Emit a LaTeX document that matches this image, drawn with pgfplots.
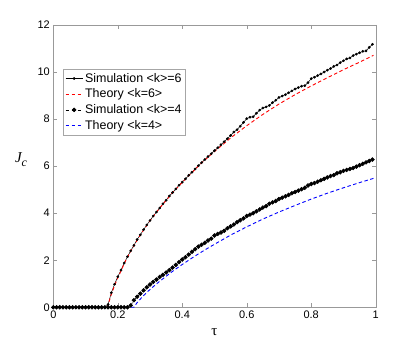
\documentclass[border=0pt]{standalone}
\usepackage{fontspec}
\setmainfont{Liberation Sans}
\newfontfamily\seriffont{Liberation Serif}
\usepackage{pgfplots}
\pgfplotsset{compat=1.18}

\pgfplotstableread{
t J
0.00 0
0.01 0
0.02 0
0.03 0
0.04 0
0.05 0
0.06 0
0.07 0
0.08 0
0.09 0
0.10 0
0.11 0
0.12 0
0.13 0
0.14 0
0.15 0
0.16 0
0.17 0.12
0.18 0.62
0.19 0.98
0.20 1.30
0.21 1.58
0.22 1.88
0.23 2.15
0.24 2.40
0.25 2.63
0.26 2.88
0.27 3.08
0.28 3.30
0.29 3.50
0.30 3.69
0.31 3.88
0.32 4.05
0.33 4.22
0.34 4.40
0.35 4.55
0.36 4.73
0.37 4.88
0.38 5.03
0.39 5.19
0.40 5.32
0.41 5.46
0.42 5.61
0.43 5.74
0.44 5.88
0.45 6.02
0.46 6.15
0.47 6.28
0.48 6.41
0.49 6.53
0.50 6.66
0.51 6.78
0.52 6.91
0.53 7.04
0.54 7.17
0.55 7.30
0.56 7.45
0.57 7.55
0.58 7.70
0.59 7.86
0.60 8.02
0.61 8.08
0.62 8.10
0.63 8.25
0.64 8.38
0.65 8.47
0.66 8.52
0.67 8.58
0.68 8.70
0.69 8.80
0.70 8.92
0.71 8.98
0.72 9.04
0.73 9.12
0.74 9.20
0.75 9.28
0.76 9.34
0.77 9.40
0.78 9.42
0.79 9.55
0.80 9.72
0.81 9.78
0.82 9.85
0.83 9.92
0.84 10.00
0.85 10.08
0.86 10.15
0.87 10.24
0.88 10.30
0.89 10.40
0.90 10.48
0.91 10.56
0.92 10.60
0.93 10.70
0.94 10.76
0.95 10.82
0.96 10.88
0.97 10.90
0.98 11.05
0.99 11.18
}\simsix

\pgfplotstableread{
t J
0.00 0
0.01 0
0.02 0
0.03 0
0.04 0
0.05 0
0.06 0
0.07 0
0.08 0
0.09 0
0.10 0
0.11 0
0.12 0
0.13 0
0.14 0
0.15 0
0.16 0
0.17 0
0.18 0
0.19 0
0.20 0
0.21 0
0.22 0
0.23 0
0.24 0.08
0.25 0.30
0.26 0.45
0.27 0.58
0.28 0.72
0.29 0.85
0.30 0.97
0.31 1.08
0.32 1.18
0.33 1.29
0.34 1.38
0.35 1.48
0.36 1.58
0.37 1.69
0.38 1.80
0.39 1.92
0.40 2.03
0.41 2.13
0.42 2.24
0.43 2.36
0.44 2.47
0.45 2.58
0.46 2.66
0.47 2.74
0.48 2.84
0.49 2.92
0.50 3.05
0.51 3.12
0.52 3.18
0.53 3.25
0.54 3.36
0.55 3.44
0.56 3.52
0.57 3.62
0.58 3.70
0.59 3.78
0.60 3.88
0.61 3.94
0.62 4.00
0.63 4.08
0.64 4.16
0.65 4.24
0.66 4.30
0.67 4.40
0.68 4.46
0.69 4.52
0.70 4.60
0.71 4.66
0.72 4.72
0.73 4.78
0.74 4.85
0.75 4.90
0.76 4.96
0.77 5.02
0.78 5.08
0.79 5.18
0.80 5.24
0.81 5.28
0.82 5.34
0.83 5.40
0.84 5.46
0.85 5.52
0.86 5.58
0.87 5.62
0.88 5.70
0.89 5.74
0.90 5.80
0.91 5.84
0.92 5.88
0.93 5.92
0.94 5.98
0.95 6.04
0.96 6.10
0.97 6.16
0.98 6.22
0.99 6.28
}\simfour

\pgfplotstableread{
t J
0.00 0
0.1675 0
0.18 0.55
0.19 0.92
0.20 1.25
0.21 1.55
0.225 2.00
0.25 2.62
0.275 3.18
0.30 3.68
0.325 4.13
0.35 4.55
0.375 4.94
0.40 5.31
0.425 5.66
0.45 6.00
0.475 6.32
0.50 6.62
0.55 7.20
0.60 7.72
0.65 8.20
0.70 8.64
0.75 9.04
0.80 9.41
0.85 9.76
0.90 10.10
0.95 10.42
0.993 10.71
}\thsix

\pgfplotstableread{
t J
0.00 0
0.25 0
0.26 0.20
0.27 0.35
0.28 0.50
0.29 0.63
0.30 0.76
0.325 1.05
0.35 1.32
0.375 1.58
0.40 1.82
0.425 2.05
0.45 2.27
0.475 2.48
0.50 2.68
0.55 3.07
0.60 3.42
0.65 3.75
0.70 4.05
0.75 4.33
0.80 4.60
0.85 4.85
0.90 5.08
0.95 5.30
0.993 5.48
}\thfour

\begin{document}
\begin{tikzpicture}
\useasboundingbox (-53.3bp,-38.7bp) rectangle (361.7bp,307.3bp);
\begin{axis}[
    at={(0,0)}, anchor=south west,
    scale only axis,
    width=322.4bp, height=282.3bp,
    xmin=0, xmax=1, ymin=0, ymax=12,
    xtick={0,0.2,...,1}, ytick={0,2,...,12},
    tick align=inside,
    major tick length=4bp,
    axis line style={gray!80},
    tick style={gray!80},
    tick label style={font=\fontsize{11}{12}\selectfont},
    /pgf/number format/assume math mode=true,
    xlabel={\seriffont τ},
    xlabel style={at={(axis description cs:0.5,-0.088)}, anchor=center, font=\fontsize{15}{15}\selectfont},
    ylabel={\seriffont\itshape J\raisebox{-0.55ex}{\fontsize{12}{12}\selectfont c}},
    ylabel style={rotate=-90, at={(axis description cs:-0.1,0.522)}, anchor=center, font=\fontsize{15}{15}\selectfont},
    legend style={at={(axis description cs:0.03,0.844)}, anchor=north west,
        draw=gray!70, font=\fontsize{12.5}{15}\selectfont,
        inner sep=2bp, row sep=1.2bp},
    legend cell align=left,
]
\addplot[color=black, line width=0.5pt, mark=*, mark size=1.1pt] table[x=t,y=J] {\simsix};
\addlegendentry{Simulation <k>=6}
\addplot[color=red, line width=0.9pt, dash pattern=on 3.5pt off 2.5pt] table[x=t,y=J] {\thsix};
\addlegendentry{Theory <k=6>}
\addplot[color=black, line width=0.6pt, dash pattern=on 3.5pt off 2.5pt, mark=*, mark size=1.9pt, mark options={solid}] table[x=t,y=J] {\simfour};
\addlegendentry{Simulation <k>=4}
\addplot[color=blue, line width=0.9pt, dash pattern=on 3.5pt off 2.5pt] table[x=t,y=J] {\thfour};
\addlegendentry{Theory <k=4>}
\end{axis}
\end{tikzpicture}
\end{document}
